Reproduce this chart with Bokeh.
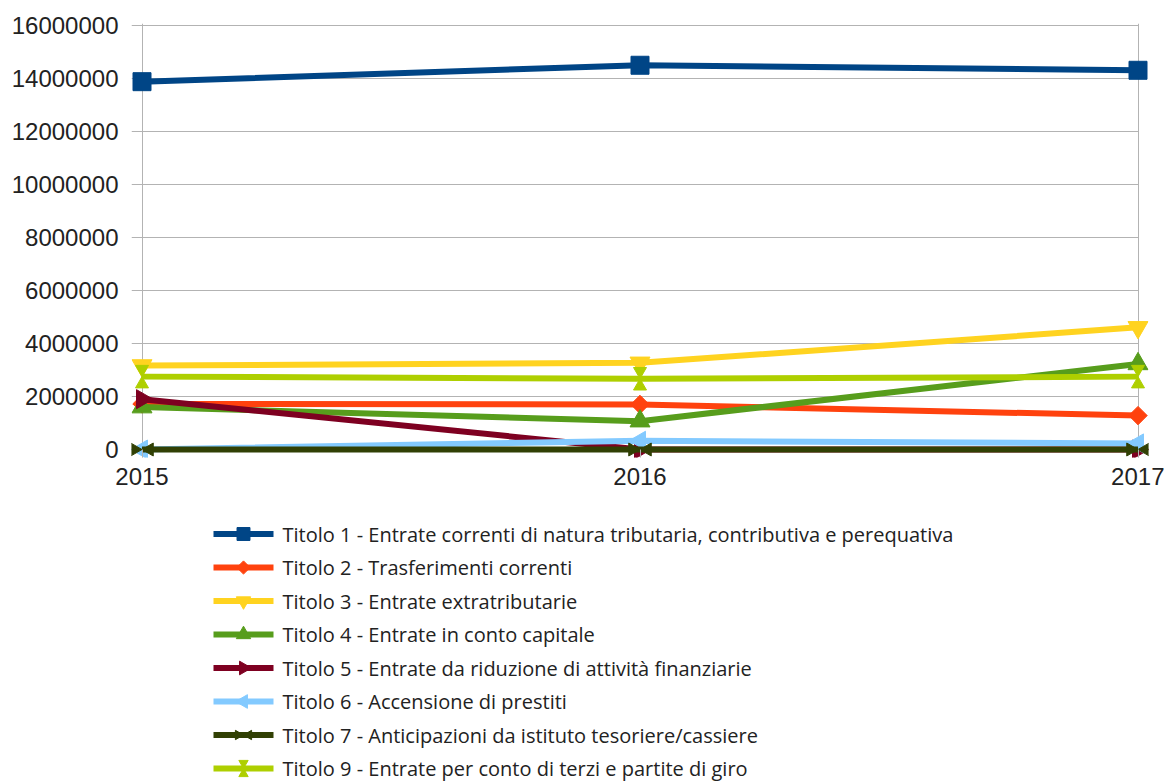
import math
from bokeh.plotting import figure
from bokeh.layouts import column
from bokeh.models import (FixedTicker, ColumnDataSource, Range1d, BasicTickFormatter)
from bokeh.core.properties import value
from bokeh.transform import dodge
from bokeh.embed import file_html
from bokeh.resources import INLINE

# ---------------- data ----------------
years = [2015, 2016, 2017]
series_names = [
    "Titolo 1 - Entrate correnti di natura tributaria, contributiva e perequativa",
    "Titolo 2 - Trasferimenti correnti",
    "Titolo 3 - Entrate extratributarie",
    "Titolo 4 - Entrate in conto capitale",
    "Titolo 5 - Entrate da riduzione di attività finanziarie",
    "Titolo 6 - Accensione di prestiti",
    "Titolo 7 - Anticipazioni da istituto tesoriere/cassiere",
    "Titolo 9 - Entrate per conto di terzi e partite di giro",
]
titolo1 = [13880000, 14500000, 14310000]
titolo2 = [1720000, 1700000, 1280000]
titolo3 = [3170000, 3270000, 4610000]
titolo4 = [1600000, 1070000, 3230000]
titolo5 = [1900000, 0, 0]
titolo6 = [0, 330000, 230000]
titolo7 = [0, 0, 0]
titolo9 = [2750000, 2670000, 2750000]
y_ticks = [0, 2000000, 4000000, 6000000, 8000000, 10000000, 12000000, 14000000, 16000000]

series_values = [titolo1, titolo2, titolo3, titolo4, titolo5, titolo6, titolo7, titolo9]
colors = ["#004586", "#ff420e", "#ffd320", "#579d1c", "#7e0021", "#83caff", "#314004", "#aecf00"]

# ---------------- geometry ----------------
W = 1164
H1, H2 = 500, 282
BL, BR, BT, BB = 131, 16, 23, 43
frame_w = W - BL - BR
frame_h = H1 - BT - BB
pad_x = 10.5
px_per_year = (frame_w - 2 * pad_x) / (years[-1] - years[0])
x_start = years[0] - pad_x / px_per_year
x_end = years[-1] + pad_x / px_per_year
pad_bottom, pad_top = 8, 2
upp = (y_ticks[-1] - y_ticks[0]) / (frame_h - pad_bottom - pad_top)
y_start = y_ticks[0] - pad_bottom * upp
y_end = y_ticks[-1] + pad_top * upp

GRID = "#b3b3b3"
TXT = "#222222"

p = figure(width=W, height=H1, output_backend="svg", toolbar_location=None,
           x_range=Range1d(x_start, x_end), y_range=Range1d(y_start, y_end),
           min_border_left=BL, min_border_right=BR, min_border_top=BT,
           min_border_bottom=BB)
p.outline_line_color = None
p.background_fill_color = "white"
p.border_fill_color = "white"

# horizontal grid lines (drawn from the tick list, extending left as ticks)
p.segment(x0=[x_start] * len(y_ticks), x1=[years[-1]] * len(y_ticks),
          y0=y_ticks, y1=y_ticks, line_color=GRID, line_width=1)
p.ygrid.grid_line_color = None
p.xgrid.ticker = FixedTicker(ticks=[years[0], years[-1]])
p.xgrid.grid_line_color = GRID
p.xgrid.grid_line_width = 1

# axes
xa = p.xaxis[0]
xa.ticker = FixedTicker(ticks=years)
xa.axis_line_color = None
xa.major_tick_in = 8
xa.major_tick_out = 0
xa.major_tick_line_color = GRID
xa.minor_tick_line_color = None
xa.major_label_text_font = "Liberation Sans"
xa.major_label_text_font_size = "24px"
xa.major_label_text_color = TXT
xa.major_label_standoff = 10

ya = p.yaxis[0]
ya.ticker = FixedTicker(ticks=y_ticks)
ya.formatter = BasicTickFormatter(use_scientific=False)
ya.axis_line_color = None
ya.major_tick_line_color = None
ya.minor_tick_line_color = None
ya.major_label_text_font = "Liberation Sans"
ya.major_label_text_font_size = "24px"
ya.major_label_text_color = TXT
ya.major_label_standoff = 7

# marker specs: (marker, angle, size, dodge-x px, dodge-y px (up positive))
def bow(size, vertical=False):
    off = size / math.sqrt(3)  # centroid distance from apex in px
    if vertical:
        return [("inverted_triangle", 0, size, 0, off), ("triangle", 0, size, 0, -off)]
    return [("triangle", -math.pi / 2, size, -off, 0), ("triangle", math.pi / 2, size, off, 0)]

def marker_specs(scale):
    s = lambda v: v * scale
    return [
        [("square", 0, s(18), 0, 0)],
        [("square", math.pi / 4, s(13), 0, 0)],
        [("inverted_triangle", 0, s(20), 0, 0)],
        [("triangle", 0, s(20), 0, 0)],
        [("triangle", -math.pi / 2, s(19), 0, 0)],
        [("triangle", math.pi / 2, s(19), 0, 0)],
        bow(s(13)),
        bow(s(13), vertical=True),
    ]

# ---------------- legend figure (coordinates = page pixels) ----------------
p2 = figure(width=W, height=H2, output_backend="svg", toolbar_location=None,
            x_range=Range1d(BL, W - BR), y_range=Range1d(H1 + H2, H1),
            x_axis_location=None, y_axis_location=None,
            min_border_left=BL, min_border_right=BR, min_border_top=0,
            min_border_bottom=0)
p2.outline_line_color = None
p2.grid.grid_line_color = None
p2.background_fill_color = "white"
p2.border_fill_color = "white"

LEG_X0, LEG_X1, LEG_TX = 213, 273, 282
LEG_Y0, LEG_PITCH = 533.5, 33.5

chart_specs = marker_specs(1.0)
legend_specs = marker_specs(0.72)
for i, (name, vals, col) in enumerate(zip(series_names, series_values, colors)):
    src = ColumnDataSource(data=dict(x=years, y=vals))
    p.line("x", "y", source=src, line_width=6, line_color=col)
    for (mk, ang, sz, dxp, dyp) in chart_specs[i]:
        xs = dodge("x", dxp / px_per_year) if dxp else "x"
        ys = dodge("y", dyp * upp) if dyp else "y"
        p.scatter(x=xs, y=ys, source=src, marker=mk, angle=ang, size=sz,
                  fill_color=col, line_color=col, line_width=1)

    # legend row
    ry = LEG_Y0 + i * LEG_PITCH
    p2.segment(x0=[LEG_X0], x1=[LEG_X1], y0=[ry], y1=[ry], line_width=6, line_color=col)
    cx = (LEG_X0 + LEG_X1) / 2
    for (mk, ang, sz, dxp, dyp) in legend_specs[i]:
        p2.scatter(x=[cx + dxp], y=[ry - dyp], marker=mk, angle=ang, size=sz,
                   fill_color=col, line_color=col, line_width=1)
    p2.text(x=[LEG_TX], y=[ry], text=[name], text_font=value("Open Sans"),
            text_font_size="20px", text_baseline="middle", text_align="left",
            text_color=TXT)

layout = column(p, p2, spacing=0)
open("out.html", "w").write(file_html(layout, INLINE))
